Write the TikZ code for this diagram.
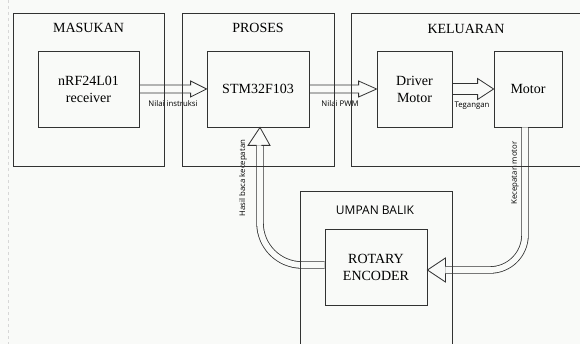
\documentclass[tikz,border=0pt]{standalone}
\usepackage{fontspec}
\setmainfont{Liberation Serif}
\newfontfamily\labelfont{Open Sans}
\usetikzlibrary{calc}
\definecolor{pagebg}{RGB}{249,250,248}
\definecolor{linegray}{RGB}{50,50,50}
\definecolor{dashgray}{RGB}{215,215,215}

\begin{document}
\begin{tikzpicture}[
    x=1pt, y=-1pt,
    groupbox/.style={draw=linegray, line width=0.8pt, minimum width=#1, minimum height=153pt, inner sep=0pt},
    unitbox/.style={draw=linegray, line width=0.8pt, minimum width=#1, minimum height=76pt, align=center, font=\fontsize{14}{17}\selectfont, inner sep=0pt},
    grouptitle/.style={font=\fontsize{14}{17}\selectfont, inner sep=0pt},
    flowline/.style={draw=linegray, line width=0.8pt, double=pagebg, double distance=#1},
    headline/.style={draw=linegray, line width=0.8pt, line join=miter},
    flowlabel/.style={font=\labelfont\fontsize{7.8}{9}\selectfont, inner sep=0pt},
]
    \useasboundingbox (0,0) rectangle (580,344);
    \fill[pagebg] (0,0) rectangle (580,344);
    \draw[dashgray, dashed, line width=0.5pt] (8,0) -- (8,344);

    % blok
    \node[unitbox=101pt] (nrf) at (88.5,89) {nRF24L01\\receiver};
    \node[unitbox=102pt] (stm) at (258,89) {STM32F103};
    \node[unitbox=75pt] (driver) at (414.5,89) {Driver\\Motor};
    \node[unitbox=68pt] (motor) at (528,89) {Motor};
    \node[unitbox=102pt] (rotary) at (376,267) {ROTARY\\ENCODER};

    % nrf -> stm
    \draw[headline] ($(nrf.east)+(0,-4)$) -- ($(stm.west)+(-16,-4)$) -- ++(0,-4) -- (stm.west)
        -- ++(-16,8) -- ++(0,-4) -- ($(nrf.east)+(0,4)$);
    \node[flowlabel] (lnilai) at (173,104) {Nilai instruksi};

    % stm -> driver
    \draw[headline] ($(stm.east)+(0,-4)$) -- ($(driver.west)+(-18,-4)$) -- ++(0,-4) -- (driver.west)
        -- ++(-18,8) -- ++(0,-4) -- ($(stm.east)+(0,4)$);
    \node[flowlabel] (lpwm) at (340,104) {Nilai PWM};

    % driver -> motor
    \draw[headline] ($(driver.east)+(0,-5.5)$) -- ($(motor.west)+(-16,-5.5)$) -- ++(0,-5) -- (motor.west)
        -- ++(-16,10.5) -- ++(0,-5) -- ($(driver.east)+(0,5.5)$);
    \node[flowlabel] (ltegangan) at (472,106) {Tegangan};

    % motor -> rotary
    \draw[flowline=5.8pt, rounded corners=35pt] ($(motor.south)+(-3,0)$) |- ($(rotary.east)+(18,3)$);
    \draw[headline] ($(rotary.east)+(18,-0.3)$) -- ++(0,-8.7) -- ($(rotary.east)+(0,3)$) -- ++(18,12) -- ++(0,-8.7);
    \node[flowlabel, rotate=90] (lkecepatan) at (515,173) {Kecepatan motor};

    % rotary -> stm
    \draw[flowline=5.8pt, rounded corners=42pt] ($(rotary.west)+(0,-2)$) -| ($(stm.south)+(2,18)$);
    \draw[headline] ($(stm.south)+(-1.3,18)$) -- ++(-8.7,0) -- ($(stm.south)+(2,0)$) -- ++(10,18) -- ++(-8.7,0);
    \node[flowlabel, rotate=90] (lhasil) at (243,178) {Hasil baca kecepatan};

    % kelompok
    \node[groupbox=151pt] (masukan) at (88.5,89.5) {};
    \node[groupbox=152pt] (proses) at (258,89.5) {};
    \node[groupbox=240pt] (keluaran) at (471,89.5) {};
    \node[groupbox=152pt, minimum height=160pt] (umpan) at (376,271) {};
    \node[grouptitle] (tmasukan) at (88.5,27.5) {MASUKAN};
    \node[grouptitle] (tproses) at (258,27.5) {PROSES};
    \node[grouptitle] (tkeluaran) at (466,29) {KELUARAN};
    \node[grouptitle, font=\labelfont\fontsize{12}{14}\selectfont] (tumpan) at (375,210) {UMPAN BALIK};
\end{tikzpicture}
\end{document}
